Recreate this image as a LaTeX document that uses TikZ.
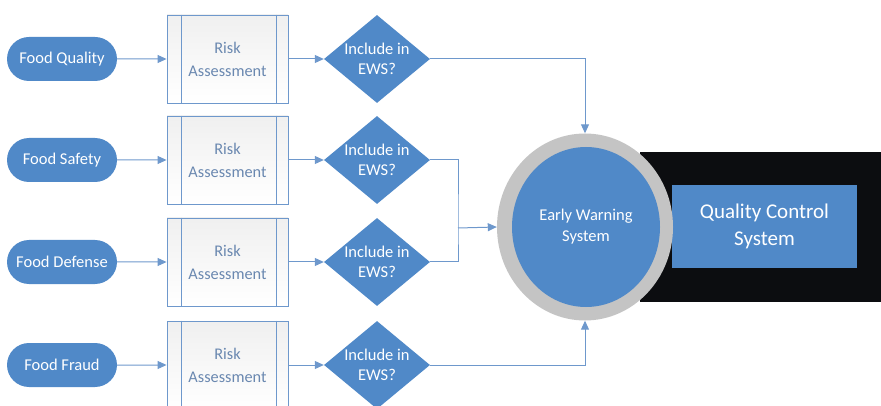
\documentclass[tikz,border=0pt]{standalone}
\usepackage{fontspec}
\setmainfont{Carlito}
\usetikzlibrary{shapes.geometric,shapes.misc,arrows.meta}
\definecolor{fblue}{HTML}{5089C8}
\definecolor{lblue}{HTML}{6E98CC}
\definecolor{tblue}{HTML}{6A88B0}
\definecolor{ring}{HTML}{C4C4C4}
\definecolor{qblack}{HTML}{0C0D10}
\tikzset{
  pill/.style={rounded rectangle, fill=fblue, text=white, minimum width=110pt, minimum height=44pt, font=\fontsize{16.5}{18}\selectfont, inner sep=0pt},
  riskbox/.style={draw=lblue, line width=0.9pt, top color=gray!12, bottom color=white, minimum width=121pt, minimum height=88pt, text=tblue, align=center, font=\fontsize{16.3}{23}\selectfont},
  dec/.style={diamond, aspect=1.2, fill=fblue, text=white, minimum width=106pt, minimum height=88pt, inner sep=0pt, align=center, font=\fontsize{16.5}{20}\selectfont},
  conn/.style={draw=lblue, line width=1pt, -{Triangle[length=9pt,width=8pt]}},
}
\begin{document}
\begin{tikzpicture}[x=1pt,y=-1pt]
\useasboundingbox (0,0) rectangle (881,406);
\clip (0,0) rectangle (881,406);
% black band
\fill[qblack] (640,152) rectangle (881,302);
\node[fill=fblue, minimum width=185pt, minimum height=83pt, text=white, align=center, font=\fontsize{21}{27}\selectfont] (qcs) at (764.5,226.5) {Quality Control\\System};
% circle
\node[ellipse, fill=ring, minimum width=176pt, minimum height=187pt] (ews) at (585,227) {};
\node[ellipse, fill=fblue, minimum width=148pt, minimum height=160pt, text=white, align=center, font=\fontsize{16.5}{21}\selectfont] (ewsin) at (586,227) {Early Warning\\System};
\foreach \i/\y/\lab in {1/59/Food Quality, 2/160/Food Safety, 3/262/Food Defense, 4/365/Food Fraud}{
  \node[pill] (p\i) at (62,\y) {\lab};
  \node[riskbox] (r\i) at (227.5,\y) {Risk\\Assessment};
  \draw[draw=lblue, line width=0.9pt] ([xshift=15pt]r\i.north west) -- ([xshift=15pt]r\i.south west)
        ([xshift=-12pt]r\i.north east) -- ([xshift=-12pt]r\i.south east);
  \node[dec] (d\i) at (377,\y) {Include in\\EWS?};
  \draw[conn] (p\i) -- (r\i);
  \draw[conn] (r\i) -- (d\i);
}
\coordinate (j) at (458,228);
\draw[conn] (d1.east) -| (ews.north);
\draw[conn] (d4.east) -| (ews.south);
\draw[draw=lblue, line width=1pt] (d2.east) -| (j) |- (d3.east);
\draw[conn] (j) -- (ews.west);
\end{tikzpicture}
\end{document}
